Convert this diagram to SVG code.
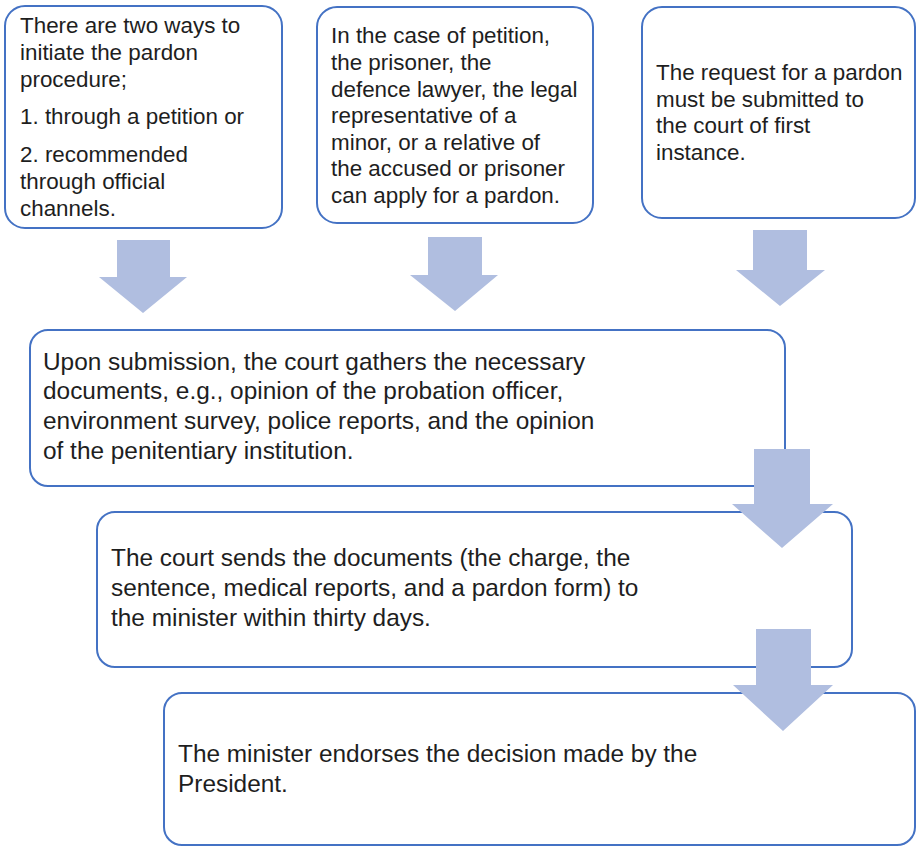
<svg xmlns="http://www.w3.org/2000/svg" width="917" height="847" viewBox="0 0 917 847">
<style>
.box{fill:#fff;stroke:#4472C4;stroke-width:2}
.arr{fill:#B0BEE0}
.t{font-family:"Liberation Sans",Arial,sans-serif;font-size:22.4px;fill:#1e1e1e}
.tb{font-family:"Liberation Sans",Arial,sans-serif;font-size:24.4px;fill:#1e1e1e}
</style>
<rect width="917" height="847" fill="#fff"/>
<g id="node1">
<rect class="box" x="5" y="6" width="277" height="222" rx="20"/>
<text class="t"><tspan x="20" y="33">There are two ways to</tspan><tspan x="20" y="60">initiate the pardon</tspan><tspan x="20" y="87">procedure;</tspan><tspan x="20" y="124">1. through a petition or</tspan><tspan x="20" y="162">2. recommended</tspan><tspan x="20" y="189">through official</tspan><tspan x="20" y="216">channels.</tspan></text>
</g>
<g id="node2">
<rect class="box" x="317" y="7" width="276" height="216" rx="20"/>
<text class="t"><tspan x="331" y="43">In the case of petition,</tspan><tspan x="331" y="70">the prisoner, the</tspan><tspan x="331" y="97">defence lawyer, the legal</tspan><tspan x="331" y="123">representative of a</tspan><tspan x="331" y="150">minor, or a relative of</tspan><tspan x="331" y="176">the accused or prisoner</tspan><tspan x="331" y="203">can apply for a pardon.</tspan></text>
</g>
<g id="node3">
<rect class="box" x="642" y="7" width="273" height="211" rx="20"/>
<text class="t"><tspan x="656" y="80">The request for a pardon</tspan><tspan x="656" y="107">must be submitted to</tspan><tspan x="656" y="133">the court of first</tspan><tspan x="656" y="160">instance.</tspan></text>
</g>
<g id="node4">
<rect class="box" x="30" y="330" width="755" height="156" rx="18"/>
<text class="tb"><tspan x="43" y="370">Upon submission, the court gathers the necessary</tspan><tspan x="43" y="399">documents, e.g., opinion of the probation officer,</tspan><tspan x="43" y="429">environment survey, police reports, and the opinion</tspan><tspan x="43" y="459">of the penitentiary institution.</tspan></text>
</g>
<g id="node5">
<rect class="box" x="97" y="512" width="755" height="155" rx="18"/>
<text class="tb"><tspan x="111" y="566">The court sends the documents (the charge, the</tspan><tspan x="111" y="596">sentence, medical reports, and a pardon form) to</tspan><tspan x="111" y="626">the minister within thirty days.</tspan></text>
</g>
<g id="node6">
<rect class="box" x="164" y="693" width="751" height="152" rx="18"/>
<text class="tb"><tspan x="178" y="762">The minister endorses the decision made by the</tspan><tspan x="178" y="792">President.</tspan></text>
</g>
<g id="connectors">
<polygon class="arr" points="117,240 170,240 170,277 187,277 143,313 99,277 117,277"/>
<polygon class="arr" points="428,237 482,237 482,275 498,275 455,311 410,275 428,275"/>
<polygon class="arr" points="753,230 807,230 807,270 825,270 780,306 736,270 753,270"/>
<polygon class="arr" points="754,449 810,449 810,504 833,504 782,548 732,504 754,504"/>
<polygon class="arr" points="756,629 811,629 811,685 833,685 783,731 733,685 756,685"/>
</g>
</svg>
